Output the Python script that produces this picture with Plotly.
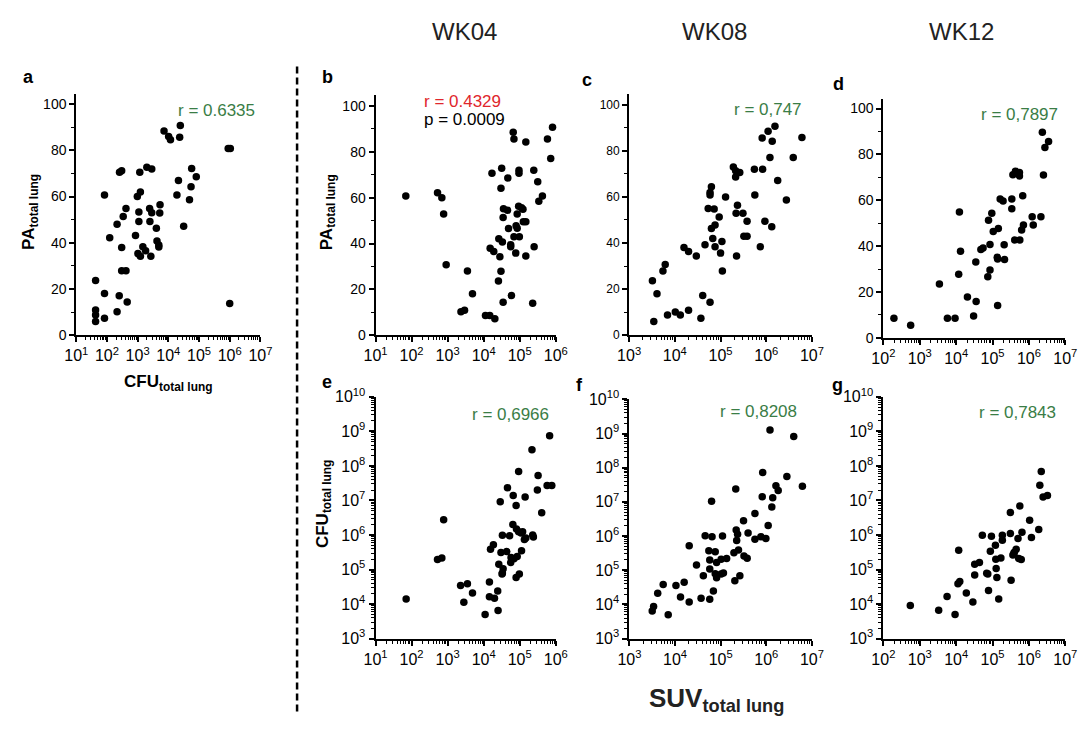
import plotly.graph_objects as go

W, H = 1090, 729

# ---------------- data (log10 of x / y values where axes are logarithmic) ----------------
# Panel a: CFU (log10) vs PA
a_cfu_log = [1.63,1.63,1.63,1.63,1.92,1.92,1.92,2.09,2.33,2.33,2.41,2.48,2.40,2.48,2.48,2.62,2.53,2.62,2.66,
             2.93,2.99,3.01,3.07,3.09,3.04,3.04,3.09,3.17,3.26,3.30,3.39,3.46,3.46,3.40,3.43,3.61,3.63,3.69,
             3.69,3.73,3.72,3.86,4.01,4.07,4.39,4.37,4.33,4.28,4.50,4.69,4.74,4.76,4.91,5.95,6.02,6.00]
a_pa = [23.6,10.9,8.7,5.9,60.6,18.0,7.3,42.1,48.0,10.1,70.5,71.1,17.1,37.9,27.9,27.9,51.3,54.8,14.4,
        43.1,60.0,35.3,70.5,62.0,53.3,49.2,34.2,38.3,36.5,72.7,54.8,71.9,53.0,49.2,34.2,46.3,40.7,39.0,
        38.1,56.4,52.9,88.4,86.0,84.6,90.7,85.6,66.9,60.6,47.1,58.6,64.2,72.1,68.6,80.8,80.8,13.7]

# Panel b: WK04 SUV (log10) vs PA
b_suv_log = [1.84,2.72,2.84,2.89,2.96,3.55,3.69,3.37,3.47,4.05,4.17,4.31,4.23,4.18,4.28,4.45,4.42,4.48,4.50,
             4.52,4.48,4.41,4.54,4.55,4.66,4.54,4.67,4.69,4.75,4.75,4.77,4.82,4.84,4.84,4.89,4.90,4.93,4.93,
             4.97,4.99,4.98,4.98,5.05,5.09,5.10,5.17,5.17,5.17,5.36,5.39,5.40,5.50,5.53,5.63,5.77,5.86,5.91]
b_pa = [60.7,62.1,60.0,52.9,30.7,28.0,18.1,10.2,10.9,8.6,8.6,7.2,70.7,37.9,36.5,34.2,42.1,64.1,72.8,
        40.7,27.9,23.6,51.3,55.2,54.5,14.4,68.6,46.5,39.5,38.6,17.3,88.5,85.6,42.9,35.8,47.7,46.7,52.9,
        56.3,43.0,72.0,70.7,55.6,55.0,49.5,49.5,84.3,34.5,13.9,72.0,38.6,67.0,58.4,60.7,85.6,77.1,90.7]

# Panel c: WK08 SUV (log10) vs PA
c_suv_log = [3.51,3.54,3.61,3.74,3.79,3.84,4.01,4.12,4.20,4.30,4.30,4.47,4.57,4.61,4.66,4.77,4.73,4.77,4.77,
             4.80,4.80,4.83,4.86,4.88,4.88,4.97,5.00,5.03,5.04,5.11,5.28,5.33,5.33,5.42,5.37,5.34,5.35,5.49,
             5.51,5.58,5.58,5.74,5.75,5.87,5.91,5.92,5.97,6.04,6.08,6.12,6.13,6.19,6.25,6.44,6.59,6.78]
c_pa = [23.6,5.9,18.0,27.8,30.7,8.7,10.1,8.7,38.0,36.3,10.8,34.3,7.3,17.2,39.2,14.3,55.0,60.8,61.9,
        64.4,46.3,41.9,54.7,38.4,47.8,51.3,35.6,40.6,27.8,59.9,72.9,68.6,71.3,70.6,56.4,52.9,34.3,52.9,
        42.9,42.9,49.4,72.0,60.8,38.4,85.5,72.0,49.4,88.5,77.1,47.0,84.1,90.6,67.1,58.6,77.1,85.7]

# Panel d: WK12 SUV (log10) vs PA
d_suv_log = [2.29,2.75,3.54,3.76,3.97,4.09,4.12,4.07,4.31,4.48,4.55,4.54,4.68,4.74,4.89,4.93,4.93,4.87,4.98,
             5.02,5.13,5.14,5.16,5.14,5.21,5.29,5.32,5.33,5.53,5.53,5.56,5.63,5.74,5.74,5.61,5.75,5.80,5.85,
             5.83,6.09,6.12,6.33,6.37,6.40,6.44,6.54]
d_pa = [8.5,5.5,23.5,8.5,8.5,54.9,37.8,27.7,17.8,9.5,15.8,33.1,38.5,39.2,51.3,40.7,29.6,26.6,54.3,
        46.4,35.1,34.4,47.7,14.1,60.5,59.7,40.6,34.2,60.5,56.3,71.1,72.7,72.1,70.6,42.7,42.7,47.0,49.2,
        62.0,52.8,49.2,52.8,89.7,71.0,83.0,85.6]

# Panel e: WK04 SUV (log10) vs CFU (log10)
e_suv_log = [1.85,2.72,2.84,2.89,3.36,3.45,3.55,3.69,4.04,4.16,4.16,4.30,4.19,4.27,4.40,4.39,4.42,4.46,4.48,
             4.52,4.54,4.52,4.51,4.64,4.66,4.72,4.75,4.76,4.81,4.82,4.84,4.90,4.91,4.93,4.90,4.99,4.97,4.97,
             5.04,5.08,5.05,5.15,5.13,5.17,5.38,5.36,5.34,5.49,5.51,5.61,5.76,5.89,5.83]
e_cfu_log = [4.15,5.29,5.33,6.44,4.54,4.05,4.59,4.32,3.70,4.64,4.21,4.17,5.59,5.72,3.81,4.38,5.15,6.96,5.49,
             5.99,5.02,4.90,4.87,5.52,7.37,5.98,5.20,5.35,6.30,7.14,5.31,6.85,6.17,5.38,4.77,4.87,6.09,7.84,
             6.06,6.09,5.54,7.10,5.87,5.91,5.94,6.00,8.47,7.30,7.72,6.64,7.43,7.43,8.87]

# Panel f: WK08 SUV (log10) vs CFU (log10)
f_suv_log = [3.50,3.53,3.62,3.74,3.85,4.02,4.12,4.20,4.31,4.31,4.47,4.57,4.62,4.66,4.74,4.76,4.76,4.76,4.81,
             4.80,4.84,4.88,4.88,4.91,4.91,5.01,5.01,5.04,5.06,5.13,5.29,5.31,5.33,5.34,5.35,5.37,5.39,5.42,
             5.50,5.51,5.58,5.60,5.75,5.75,5.88,5.91,5.92,5.99,6.04,6.08,6.12,6.14,6.21,6.26,6.45,6.60,6.79]
f_cfu_log = [3.81,3.94,4.33,4.58,3.70,4.55,4.22,4.65,4.07,5.72,5.15,4.18,4.84,6.01,5.57,5.30,5.04,4.15,5.98,
             7.02,4.39,5.54,4.90,5.23,4.78,5.32,4.89,6.00,4.92,5.34,5.51,4.69,7.38,6.18,5.87,6.05,5.59,4.84,
             6.45,5.42,5.35,6.09,6.66,5.91,5.98,7.15,7.86,5.93,6.31,9.10,6.85,7.12,7.47,7.33,7.74,8.91,7.46]

# Panel g: WK12 SUV (log10) vs CFU (log10)
g_suv_log = [2.74,3.52,3.75,3.97,4.07,4.05,4.10,4.28,4.46,4.51,4.51,4.64,4.72,4.84,4.87,4.89,4.94,4.97,5.08,
             5.09,5.10,5.12,5.17,5.23,5.27,5.27,5.49,5.49,5.51,5.56,5.60,5.59,5.65,5.72,5.70,5.75,5.79,5.81,
             6.02,6.07,6.27,6.30,6.34,6.39,6.51]
g_cfu_log = [3.96,3.82,4.22,3.70,5.56,4.59,4.65,4.32,4.06,5.15,4.84,5.20,5.99,4.89,4.87,4.39,5.53,5.96,5.70,
             5.30,5.03,4.77,4.15,5.33,5.99,5.85,6.65,6.04,4.69,5.42,5.50,5.48,5.59,5.32,5.90,6.84,5.29,6.08,
             6.43,5.93,6.16,7.44,7.84,7.10,7.14]

week_labels = ["WK04", "WK08", "WK12"]
r_texts = {"a": "r = 0.6335", "b": "r = 0.4329", "c": "r = 0,747", "d": "r = 0,7897",
           "e": "r = 0,6966", "f": "r = 0,8208", "g": "r = 0,7843"}
p_text_b = "p = 0.0009"

FONT = "Arial, Liberation Sans, sans-serif"
GREEN = "#3a7d46"
RED = "#e0262c"

def px_x(p):
    return p / W

def px_y(p):
    return 1 - p / H

def lin_top(y0, y100, top):
    return (y0 - top) / (y0 - y100) * 100

# (name, x, y, x_left_px, x_right_px, x decades, y_bottom_px, y_top_px, y range, y log?, y tick font size)
panels = [
    ("a", a_cfu_log, a_pa, 65.7, 254, [1, 7], 333.3, 85, [0, lin_top(333.3, 95.7, 85)], False, 14),
    ("b", b_suv_log, b_pa, 371.7, 556, [1, 6], 333.3, 86, [0, lin_top(333.3, 97.7, 86)], False, 14),
    ("c", c_suv_log, c_pa, 631, 818, [3, 7], 333.3, 85, [0, lin_top(333.3, 96.3, 85)], False, 12),
    ("d", d_suv_log, d_pa, 891, 1077, [2, 7], 336, 90, [0, lin_top(336, 100.3, 90)], False, 14),
    ("e", e_suv_log, e_cfu_log, 371.7, 556, [1, 6], 645.3, 396.7, [3, 10], True, 16),
    ("f", f_suv_log, f_cfu_log, 631.3, 818, [3, 7], 645.3, 399.3, [3, 10], True, 16),
    ("g", g_suv_log, g_cfu_log, 891, 1077, [2, 7], 645.3, 396.7, [3, 10], True, 16),
]

def log_ticks(lo, hi):
    vals = [10 ** k for k in range(lo, hi + 1)]
    text = ["10<sup>%d</sup>" % k for k in range(lo, hi + 1)]
    minor = [m * 10 ** k for k in range(lo, hi) for m in range(2, 10)]
    return vals, text, minor

fig = go.Figure()
layout = {}
for i, (name, xs, ys, xl, xr, xrng, yb, yt, yrng, ylog, yfs) in enumerate(panels):
    idx = "" if i == 0 else str(i + 1)
    xv = [10 ** v for v in xs]
    yv = [10 ** v for v in ys] if ylog else ys
    fig.add_trace(go.Scatter(
        x=xv, y=yv, mode="markers",
        marker=dict(color="black", size=7.5, line=dict(width=0)),
        xaxis="x" + idx, yaxis="y" + idx, cliponaxis=False, showlegend=False,
        hoverinfo="skip"))
    common = dict(showline=True, linecolor="black", linewidth=2, ticks="outside",
                  ticklen=5, tickwidth=1.5, tickcolor="black", showgrid=False, zeroline=False,
                  mirror=False, fixedrange=True)
    xt, xtt, xm = log_ticks(xrng[0], xrng[1])
    layout["xaxis" + idx] = dict(
        type="log", range=xrng, domain=[px_x(xl), px_x(xr)], anchor="y" + idx,
        tickmode="array", tickvals=xt, ticktext=xtt,
        tickfont=dict(family=FONT, size=16, color="black"),
        minor=dict(ticks="outside", ticklen=3, tickwidth=1, tickcolor="black",
                   tickmode="array", tickvals=xm, showgrid=False),
        **common)
    if ylog:
        yt_, ytt, ym = log_ticks(yrng[0], yrng[1])
        layout["yaxis" + idx] = dict(
            type="log", range=yrng, domain=[px_y(yb), px_y(yt)], anchor="x" + idx,
            tickmode="array", tickvals=yt_, ticktext=ytt,
            tickfont=dict(family=FONT, size=yfs, color="black"),
            minor=dict(ticks="outside", ticklen=3, tickwidth=1, tickcolor="black",
                       tickmode="array", tickvals=ym, showgrid=False),
            **common)
    else:
        layout["yaxis" + idx] = dict(
            type="linear", range=yrng, domain=[px_y(yb), px_y(yt)], anchor="x" + idx,
            tick0=0, dtick=20,
            tickfont=dict(family=FONT, size=yfs, color="black"),
            minor=dict(ticks="outside", ticklen=3, tickwidth=1, tickcolor="black", dtick=10,
                       showgrid=False),
            **common)

annotations = []

def ann(text, x, y, size, color="black", angle=0, xanchor="center", yanchor="middle"):
    annotations.append(dict(text=text, x=px_x(x), y=px_y(y), xref="paper", yref="paper",
                            showarrow=False, textangle=angle, xanchor=xanchor, yanchor=yanchor,
                            font=dict(family=FONT, size=size, color=color)))

# panel letters
for letter, (lx, ly) in {"a": (17, 68), "b": (323, 68), "c": (588, 71), "d": (845, 75),
                         "e": (322, 381), "f": (580, 385), "g": (844, 385)}.items():
    ann("<b>%s</b>" % letter, lx, ly, 18)

# week headers
for lbl, cx in zip(week_labels, [463, 718, 971]):
    ann(lbl, cx, 21, 24, color="#222222")

# r values
ann(r_texts["a"], 209, 102, 17, GREEN)
ann(r_texts["b"], 419, 93, 17, RED, xanchor="left")
ann(p_text_b, 419, 112, 17, "black", xanchor="left")
ann(r_texts["c"], 773, 101, 17, GREEN)
ann(r_texts["d"], 1030, 106, 17, GREEN)
ann(r_texts["e"], 510, 415, 17, GREEN)
ann(r_texts["f"], 763, 412, 17, GREEN)
ann(r_texts["g"], 1028, 413, 17, GREEN)

# axis titles
ann("<b>PA<sub>total lung</sub></b>", 19, 207, 17, angle=-90)
ann("<b>PA<sub>total lung</sub></b>", 323, 207, 17, angle=-90)
ann("<b>CFU<sub>total lung</sub></b>", 319, 507, 17, angle=-90)
ann("<b>CFU<sub>total lung</sub></b>", 160, 382, 17)
ann("<b>SUV<sub>total lung</sub></b>", 720, 708, 26, color="#222222")

layout["annotations"] = annotations
layout["shapes"] = [dict(type="line", xref="paper", yref="paper",
                         x0=px_x(291.5), x1=px_x(291.5), y0=px_y(57), y1=px_y(722),
                         line=dict(color="black", width=2.5, dash="7px,4px"))]

fig.update_layout(width=W, height=H, margin=dict(l=0, r=0, t=0, b=0),
                  paper_bgcolor="white", plot_bgcolor="white",
                  font=dict(family=FONT, color="black"), **layout)

fig.write_html("out.html", config={"displayModeBar": False})
